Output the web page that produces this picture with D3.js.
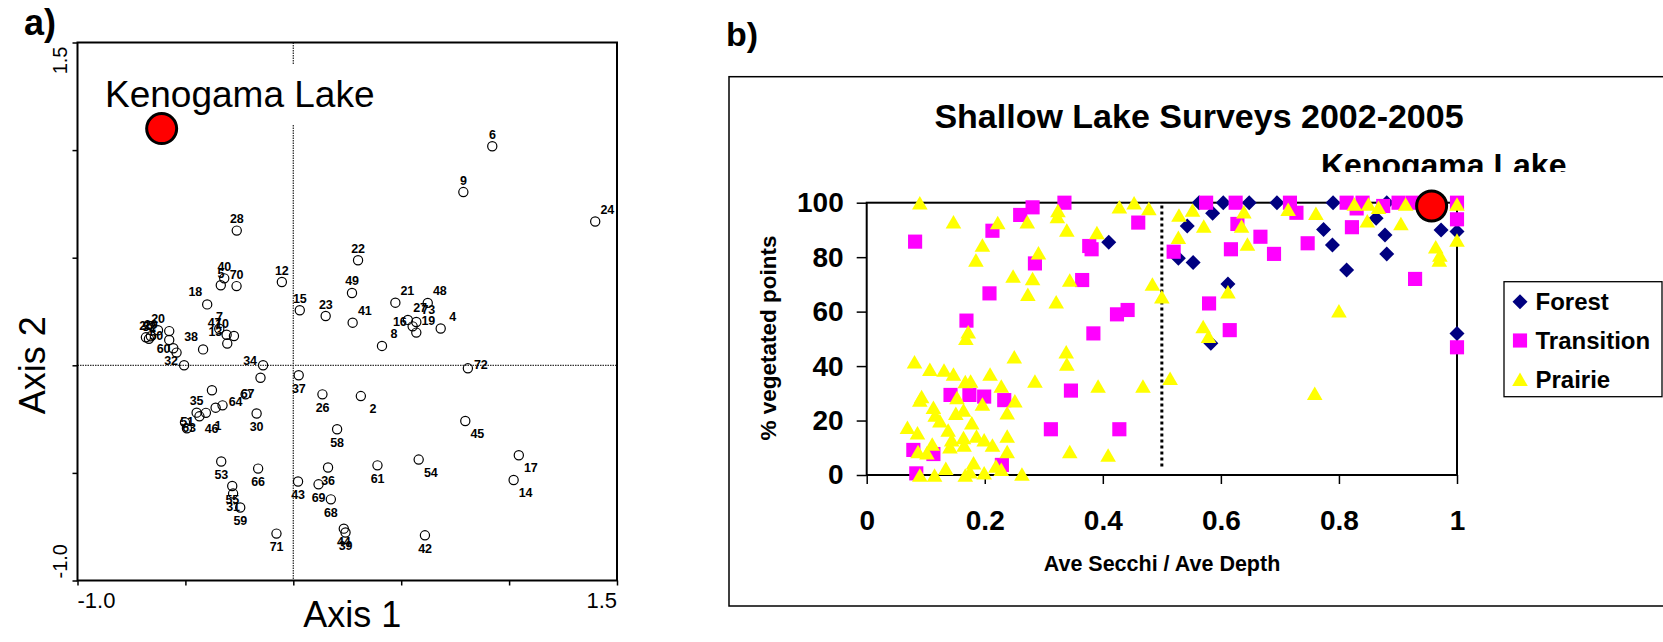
<!DOCTYPE html>
<html>
<head>
<meta charset="utf-8">
<script src="https://cdn.jsdelivr.net/npm/d3@7"></script>
<style>
  body { margin: 0; background: #fff; }
  svg { display: block; }
  text { font-family: "Liberation Sans", Arial, sans-serif; }
</style>
</head>
<body>
<svg id="chart" width="1663" height="642"></svg>
<script>
// ---- panel a: ordination (site numbers, axis 1 / axis 2 scores)
const aLabels = ["6","9","24","28","22","12","40","5","70","18","49","21","15","23","41","48","27","73","16","19","4","8","72",
  "7","47","10","13","20","25","29","52","","50","","60","32","38","34","","37","26","2","","67","35","46","1","","64",
  "51","63","30","53","66","55","31","59","71","43","69","36","68","44","39","58","61","54","45","17","14","42"]
const aAxis1 = [0.922,0.788,1.399,-0.262,0.300,-0.053,-0.320,-0.336,-0.263,-0.399,0.272,0.473,0.030,0.150,0.275,0.623,0.531,0.570,0.553,0.570,0.683,0.411,0.809,
  -0.343,-0.309,-0.275,-0.306,-0.627,-0.683,-0.660,-0.669,-0.575,-0.575,-0.556,-0.541,-0.506,-0.418,-0.140,-0.152,0.025,0.135,0.313,-0.377,-0.221,-0.448,-0.435,-0.405,-0.360,-0.328,
  -0.502,-0.493,-0.170,-0.334,-0.163,-0.283,-0.279,-0.246,-0.078,0.022,0.117,0.161,0.174,0.234,0.242,0.203,0.390,0.581,0.797,1.045,1.021,0.610]
const aAxis2 = [1.018,0.805,0.668,0.626,0.488,0.387,0.404,0.372,0.368,0.283,0.336,0.291,0.256,0.229,0.198,0.290,0.211,0.201,0.181,0.152,0.171,0.090,-0.014,
  0.170,0.142,0.136,0.101,0.163,0.130,0.135,0.123,0.159,0.118,0.079,0.059,0.000,0.074,0.000,-0.058,-0.046,-0.135,-0.143,-0.116,-0.135,-0.220,-0.237,-0.221,-0.197,-0.186,
  -0.265,-0.293,-0.224,-0.447,-0.480,-0.561,-0.596,-0.661,-0.782,-0.540,-0.553,-0.475,-0.623,-0.759,-0.777,-0.297,-0.465,-0.438,-0.259,-0.418,-0.533,-0.790]
// where each site number sits relative to its circle
const aPlace = ["n","n","ne","n","n","n","n","n","n","nw","n","ne","n","n","ne","ne","ne","ne","w","ne","ne","ne","e",
  "n","nw","nw","nw","n","n","n","n","n","w","n","w","w","nw","w","n","s","s","se","n","c","n","se","se","n","e",
  "c","c","s","s","s","s","s","s","s","s","s","s","s","s","s","s","s","se","se","se","se","s"]
const aTicks = [-1, -0.5, 0, 0.5, 1, 1.5]
const aEndLabels = [-1.0, 1.5]
const aKenogama = [-0.61, 1.10]

// ---- panel b: shallow lake surveys, [secchi/depth, % vegetated]
const forest = [[0.410,85.5],[0.543,91.4],[0.528,79.6],[0.553,78.0],[0.563,100],[0.604,100],[0.648,100],[0.695,100],[0.790,100],[0.881,100],
  [0.586,96.1],[0.774,90.2],[0.789,84.5],[0.863,94.3],[0.878,88.1],[0.881,81.2],[0.813,75.3],[0.973,90.0],[1.0,89.4],[0.612,70.1],[0.583,48.4],[1.0,52.0]]
const transition = [[0.082,85.7],[0.213,89.7],[0.260,95.5],[0.281,98.3],[0.335,100],[0.460,92.7],[0.377,84.1],[0.381,82.9],[0.285,77.7],[0.365,71.6],
  [0.208,66.7],[0.169,56.7],[0.424,59.0],[0.442,60.6],[0.384,52.0],[0.142,29.4],[0.174,29.4],[0.199,28.8],[0.233,27.5],[0.346,31.0],
  [0.312,16.8],[0.428,16.8],[0.079,9.2],[0.113,7.7],[0.084,0.6],[0.229,3.7],[0.520,82.0],[0.575,100],[0.625,100],[0.717,100],
  [0.728,96.3],[0.813,100],[0.830,97.9],[0.840,100],[0.875,98.8],[0.901,100],[0.925,100],[1.0,100],[1.0,93.9],[0.628,92.2],
  [0.667,87.5],[0.617,82.9],[0.690,81.2],[0.747,85.1],[0.822,91.0],[0.929,72.0],[0.580,63.0],[0.615,53.2],[1.0,46.9]]
const prairie = [[0.090,100],[0.147,93.0],[0.222,92.7],[0.196,84.5],[0.185,79.0],[0.272,93.0],[0.291,81.6],[0.248,73.1],[0.281,72.2],[0.273,66.4],
  [0.324,97.1],[0.323,94.9],[0.339,90.0],[0.344,71.6],[0.321,63.6],[0.390,89.1],[0.428,98.5],[0.453,100],[0.478,97.9],[0.484,70.1],
  [0.500,65.5],[0.529,95.5],[0.552,97.3],[0.528,87.3],[0.571,91.4],[0.639,96.7],[0.635,91.4],[0.645,84.8],[0.714,97.6],[0.761,96.1],
  [0.826,99.5],[0.850,99.5],[0.867,98.3],[0.848,93.4],[0.913,99.5],[0.905,92.4],[1.0,99.5],[1.0,86.3],[0.964,83.8],[0.971,80.8],
  [0.970,79.0],[0.612,67.3],[0.570,54.5],[0.579,51.0],[0.800,60.3],[0.514,35.5],[0.759,30.0],[0.172,52.6],[0.168,50.2],[0.081,41.6],
  [0.107,38.8],[0.131,38.6],[0.147,37.1],[0.167,34.3],[0.176,34.5],[0.209,37.1],[0.228,32.7],[0.250,43.4],[0.285,34.5],[0.338,45.3],
  [0.339,40.8],[0.392,32.7],[0.468,32.7],[0.093,28.8],[0.090,27.5],[0.153,28.5],[0.196,26.1],[0.251,27.3],[0.238,22.9],[0.113,24.9],
  [0.116,22.0],[0.124,19.9],[0.151,22.7],[0.164,23.9],[0.178,19.2],[0.069,17.5],[0.086,15.5],[0.138,16.5],[0.144,12.9],[0.141,10.4],
  [0.164,13.8],[0.165,11.0],[0.186,14.3],[0.199,12.9],[0.213,11.0],[0.238,14.3],[0.238,8.6],[0.111,11.4],[0.087,8.6],[0.102,8.2],
  [0.134,2.5],[0.181,4.5],[0.175,1.2],[0.167,0],[0.199,0.8],[0.219,3.3],[0.228,2.1],[0.090,0],[0.115,0],[0.263,0.4],
  [0.344,8.6],[0.409,7.3]]
const bKenogama = [0.957, 98.8]
const bXTicks = [0, 0.2, 0.4, 0.6, 0.8, 1]
const bYTicks = [0, 20, 40, 60, 80, 100]
const cutoff = { x: 0.5, y0: 3, y1: 99 }

const font = '"Liberation Sans", Arial, sans-serif'
const svg = d3.select('#chart')

// =================== panel a ===================
const xa = d3.scaleLinear().domain([-1, 1.5]).range([77.5, 617])
const ya = d3.scaleLinear().domain([-1, 1.5]).range([580.5, 42.5])
const ga = svg.append('g')

ga.append('text').attr('x', 24).attr('y', 35)
  .style('font-size', '36px').style('font-weight', 'bold').text('a)')

ga.append('g')
  .attr('transform', 'translate(0,' + ya(-1) + ')')
  .call(d3.axisBottom(xa).tickValues(aTicks).tickSize(5).tickFormat(''))
  .call(g => g.select('.domain').remove())
  .selectAll('line').attr('stroke-width', 1.5)

ga.append('g')
  .attr('transform', 'translate(' + xa(-1) + ',0)')
  .call(d3.axisLeft(ya).tickValues(aTicks).tickSize(5).tickFormat(''))
  .call(g => g.select('.domain').remove())
  .selectAll('line').attr('stroke-width', 1.5)

// zero lines
ga.append('line')
  .attr('x1', xa(0)).attr('x2', xa(0)).attr('y1', ya(1.5)).attr('y2', ya(-1))
  .style('stroke', '#333').style('stroke-width', 1.3).style('stroke-dasharray', '1.5,1')
ga.append('line')
  .attr('x1', xa(-1)).attr('x2', xa(1.5)).attr('y1', ya(0)).attr('y2', ya(0))
  .style('stroke', '#333').style('stroke-width', 1.3).style('stroke-dasharray', '1.5,1')

ga.append('rect')
  .attr('x', xa(-1)).attr('y', ya(1.5))
  .attr('width', xa(1.5) - xa(-1)).attr('height', ya(-1) - ya(1.5))
  .style('fill', 'none').style('stroke', '#000').style('stroke-width', 2)

// end tick labels
ga.selectAll()
  .data(aEndLabels)
  .enter()
  .append('text')
  .attr('x', d => xa(d))
  .attr('y', 608)
  .attr('text-anchor', (d, i) => i === 0 ? 'start' : 'end')
  .style('font-size', '22px')
  .text(d => d.toFixed(1))

ga.selectAll()
  .data(aEndLabels)
  .enter()
  .append('text')
  .attr('transform', (d, i) => 'translate(67,' + (i === 0 ? ya(d) - 2 : ya(d) + 4) + ') rotate(-90)')
  .attr('text-anchor', (d, i) => i === 0 ? 'start' : 'end')
  .style('font-size', '20px')
  .text(d => d.toFixed(1))

ga.append('text')
  .attr('x', (xa(-1) + xa(1.5)) / 2 + 5).attr('y', 627)
  .attr('text-anchor', 'middle').style('font-size', '36px').text('Axis 1')
ga.append('text')
  .attr('transform', 'translate(45,' + ya(0) + ') rotate(-90)')
  .attr('text-anchor', 'middle').style('font-size', '36px').text('Axis 2')

// Kenogama label with white backing
const kenoA = ga.append('text')
  .attr('x', 105).attr('y', 107)
  .style('font-size', '37px').text('Kenogama Lake')
const kb = kenoA.node().getBBox()
ga.insert('rect', () => kenoA.node())
  .attr('x', kb.x - 4).attr('y', kb.y - 10)
  .attr('width', kb.width + 8).attr('height', kb.height + 20)
  .style('fill', '#fff')

const offsets = {
  n: [0, -11.5], s: [0, 13.5], ne: [12, -12], nw: [-12, -12], se: [12, 13],
  w: [-13, -4], e: [13, -3], c: [2, 0]
}
const sites = aLabels.map((l, i) => ({ label: l, a1: aAxis1[i], a2: aAxis2[i], place: aPlace[i] }))

ga.selectAll()
  .data(sites)
  .enter()
  .append('circle')
  .attr('cx', d => xa(d.a1))
  .attr('cy', d => ya(d.a2))
  .attr('r', 4.6)
  .style('fill', 'none')
  .style('stroke', '#000')
  .style('stroke-width', 1.2)

ga.selectAll()
  .data(sites)
  .enter()
  .append('text')
  .attr('x', d => xa(d.a1) + offsets[d.place][0])
  .attr('y', d => ya(d.a2) + offsets[d.place][1])
  .attr('text-anchor', 'middle')
  .attr('dominant-baseline', 'central')
  .style('font-size', '12.5px')
  .style('font-weight', 'bold')
  .style('letter-spacing', '-0.2px')
  .text(d => d.label)

ga.append('circle')
  .attr('cx', xa(aKenogama[0])).attr('cy', ya(aKenogama[1])).attr('r', 15)
  .style('fill', '#ff0000').style('stroke', '#000').style('stroke-width', 3)

// =================== panel b ===================
const gb = svg.append('g')
const xb = d3.scaleLinear().domain([0, 1]).range([866.7, 1457])
const yb = d3.scaleLinear().domain([0, 100]).range([475, 202.7])

gb.append('text').attr('x', 726).attr('y', 46)
  .style('font-size', '34px').style('font-weight', 'bold').text('b)')

gb.append('rect')
  .attr('x', 729).attr('y', 76.7).attr('width', 960).attr('height', 606 - 76.7)
  .style('fill', 'none').style('stroke', '#000').style('stroke-width', 1.5)

gb.append('text')
  .attr('x', 1199).attr('y', 128)
  .attr('text-anchor', 'middle')
  .style('font-size', '34px').style('font-weight', 'bold')
  .text('Shallow Lake Surveys 2002-2005')

svg.append('defs').append('clipPath').attr('id', 'kenoClip')
  .append('rect').attr('x', 1300).attr('y', 120).attr('width', 300).attr('height', 52)
gb.append('text')
  .attr('x', 1321).attr('y', 176)
  .attr('clip-path', 'url(#kenoClip)')
  .style('font-size', '32px').style('font-weight', 'bold')
  .text('Kenogama Lake')

gb.append('g')
  .attr('transform', 'translate(0,' + yb(0) + ')')
  .call(d3.axisBottom(xb).tickValues(bXTicks).tickSize(9).tickPadding(26).tickFormat(d => String(d)))
  .call(g => g.select('.domain').remove())
  .call(g => g.selectAll('line').attr('stroke-width', 1.5))
  .call(g => g.selectAll('text').style('font-size', '28px').style('font-weight', 'bold').style('font-family', font))

gb.append('g')
  .attr('transform', 'translate(' + xb(0) + ',0)')
  .call(d3.axisLeft(yb).tickValues(bYTicks).tickSize(10).tickPadding(13))
  .call(g => g.select('.domain').remove())
  .call(g => g.selectAll('line').attr('stroke-width', 1.5))
  .call(g => g.selectAll('text').style('font-size', '28px').style('font-weight', 'bold').style('font-family', font))

gb.append('rect')
  .attr('x', xb(0)).attr('y', yb(100))
  .attr('width', xb(1) - xb(0)).attr('height', yb(0) - yb(100))
  .style('fill', 'none').style('stroke', '#000').style('stroke-width', 2)

gb.append('line')
  .attr('x1', xb(cutoff.x)).attr('x2', xb(cutoff.x))
  .attr('y1', yb(cutoff.y1)).attr('y2', yb(cutoff.y0))
  .style('stroke', '#000').style('stroke-width', 3).style('stroke-dasharray', '3,3')

gb.append('text')
  .attr('x', 1162).attr('y', 571)
  .attr('text-anchor', 'middle')
  .style('font-size', '21.5px').style('font-weight', 'bold')
  .text('Ave Secchi / Ave Depth')

gb.append('text')
  .attr('transform', 'translate(776,338) rotate(-90)')
  .attr('text-anchor', 'middle')
  .style('font-size', '22.5px').style('font-weight', 'bold')
  .text('% vegetated points')

const diamond = {
  draw(ctx, size) {
    const r = Math.sqrt(size) / 2
    ctx.moveTo(0, -r); ctx.lineTo(r, 0); ctx.lineTo(0, r); ctx.lineTo(-r, 0); ctx.closePath()
  }
}
const triangle = {
  draw(ctx, size) {
    const w = Math.sqrt(size)
    ctx.moveTo(0, -w * 0.45); ctx.lineTo(w * 0.52, w * 0.45); ctx.lineTo(-w * 0.52, w * 0.45); ctx.closePath()
  }
}
const seriesList = [
  { name: 'Forest', data: forest, color: '#000080', type: diamond, size: 225 },
  { name: 'Transition', data: transition, color: '#ff00ff', type: d3.symbolSquare, size: 200 },
  { name: 'Prairie', data: prairie, color: '#ffff00', type: triangle, size: 225 }
]

seriesList.forEach(s => {
  gb.append('g')
    .selectAll()
    .data(s.data)
    .enter()
    .append('path')
    .attr('transform', d => 'translate(' + xb(d[0]) + ',' + yb(d[1]) + ')')
    .attr('d', d3.symbol(s.type, s.size))
    .style('fill', s.color)
})

gb.append('circle')
  .attr('cx', xb(bKenogama[0])).attr('cy', yb(bKenogama[1])).attr('r', 15)
  .style('fill', '#ff0000').style('stroke', '#000').style('stroke-width', 3)

// legend
const legend = gb.append('g')
legend.append('rect')
  .attr('x', 1504).attr('y', 281.7).attr('width', 158).attr('height', 115)
  .style('fill', '#fff').style('stroke', '#000').style('stroke-width', 1.3)

legend.selectAll()
  .data(seriesList)
  .enter()
  .append('path')
  .attr('transform', (d, i) => 'translate(1520,' + (301.7 + i * 38.8) + ')')
  .attr('d', d => d3.symbol(d.type, d.size)())
  .style('fill', d => d.color)

legend.selectAll()
  .data(seriesList)
  .enter()
  .append('text')
  .attr('x', 1535.5)
  .attr('y', (d, i) => 310 + i * 38.8)
  .style('font-size', '24px')
  .style('font-weight', 'bold')
  .text(d => d.name)
</script>
</body>
</html>
